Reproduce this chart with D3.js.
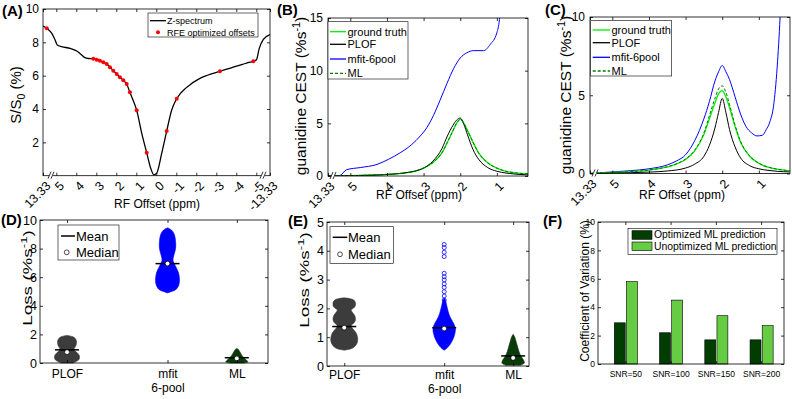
<!DOCTYPE html>
<html>
<head>
<meta charset="utf-8">
<script src="https://cdn.jsdelivr.net/npm/d3@7"></script>
<style>
    body { margin: 0; background: #fff; }
    svg { display: block; font-family: "Liberation Sans", Arial, Helvetica, sans-serif; }
</style>
</head>
<body>
<svg id="fig" width="792" height="399"></svg>
<script>
// ---- (A) Z-spectrum, [ppm, S/S0 %]
const zTicks = [13.33, 5, 4, 3, 2, 1, 0, -1, -2, -3, -4, -5, -13.33];
const zSpectrum = [
    [13.33, 8.98], [10.6, 8.82], [7.8, 8.54], [5.75, 8.14], [4.95, 7.84], [4.73, 7.74], [4.31, 7.64],
    [3.98, 7.48], [3.73, 7.24], [3.57, 7.08], [3.4, 7.03], [3.15, 7.02], [2.82, 6.9], [2.48, 6.7],
    [2.15, 6.3], [1.98, 6.1], [1.82, 5.9], [1.65, 5.72], [1.48, 5.5], [1.32, 5.0], [1.15, 4.5],
    [0.98, 3.92], [0.73, 2.55], [0.48, 1.38], [0.28, 0.45], [0.12, 0.05], [-0.02, 0.15], [-0.27, 1.34],
    [-0.52, 2.68], [-0.77, 3.94], [-1.02, 4.62], [-1.52, 5.3], [-2.18, 5.84], [-2.85, 6.14],
    [-3.18, 6.26], [-3.85, 6.52], [-4.52, 6.76], [-4.85, 6.86], [-5.1, 6.95], [-6.8, 7.64],
    [-9.3, 8.18], [-13.33, 8.47]
];
const rfeOffsets = [
    [11.0, 8.84], [3.15, 7.02], [2.98, 6.96], [2.82, 6.9], [2.65, 6.8], [2.48, 6.7], [2.32, 6.5],
    [2.15, 6.3], [1.98, 6.1], [1.82, 5.9], [1.65, 5.72], [1.48, 5.5], [1.32, 5.0], [0.98, 3.92],
    [0.48, 1.38], [-0.52, 2.68], [-1.02, 4.62], [-3.18, 6.26], [-4.85, 6.86]
];

// ---- (B) / (C) guanidine CEST, [ppm, %s-1]
const cestTicks = [13.33, 5, 4, 3, 2, 1];
const truthB = [[13.33, 0], [5.5, 0.02], [5, 0.04], [4.5, 0.08], [4, 0.15], [3.5, 0.3], [3.25, 0.45], [3, 0.75],
    [2.75, 1.25], [2.5, 2.2], [2.35, 3.2], [2.2, 4.3], [2.1, 5.0], [2.0, 5.4], [1.9, 5.0], [1.8, 4.3],
    [1.65, 3.2], [1.5, 2.2], [1.25, 1.25], [1.0, 0.75], [0.75, 0.45], [0.5, 0.3], [0.15, 0.2]];
const plofB = [[13.33, 0], [5.5, 0.01], [5, 0.03], [4.5, 0.07], [4, 0.14], [3.5, 0.3], [3.25, 0.45], [3, 0.75],
    [2.75, 1.4], [2.5, 2.6], [2.35, 3.8], [2.2, 4.8], [2.1, 5.3], [2.0, 5.5], [1.9, 4.9], [1.8, 3.9],
    [1.65, 2.5], [1.5, 1.6], [1.25, 0.8], [1.0, 0.45], [0.75, 0.28], [0.5, 0.18], [0.15, 0.1]];
const mfitB = [[13.33, 0], [5.5, 0], [5.3, 0.02], [5.1, 0.6], [4.73, 0.8], [4.27, 1.1], [3.95, 1.6], [3.64, 2.2],
    [3.32, 3.0], [3.09, 3.8], [2.91, 4.6], [2.73, 5.75], [2.55, 7.2], [2.36, 8.8], [2.18, 10.2], [2.0, 11.2],
    [1.82, 11.7], [1.64, 11.9], [1.36, 11.9], [1.18, 12.5], [1.0, 13.6], [0.93, 14.85], [0.9, 16]];
const mlB = [[13.33, 0], [5.5, 0.02], [5, 0.04], [4.5, 0.08], [4, 0.16], [3.5, 0.3], [3.25, 0.46], [3, 0.76],
    [2.75, 1.27], [2.5, 2.2], [2.35, 3.2], [2.2, 4.3], [2.1, 5.0], [2.0, 5.35], [1.9, 5.0], [1.8, 4.3],
    [1.65, 3.2], [1.5, 2.2], [1.25, 1.25], [1.0, 0.75], [0.75, 0.45], [0.5, 0.3], [0.15, 0.2]];

const truthC = [[13.33, 0], [5.5, 0.03], [5, 0.07], [4.5, 0.12], [4, 0.22], [3.5, 0.42], [3.25, 0.6], [3, 0.9],
    [2.75, 1.45], [2.5, 2.5], [2.35, 3.5], [2.2, 4.5], [2.1, 5.1], [2.0, 5.3], [1.9, 4.9], [1.8, 4.2],
    [1.65, 3.0], [1.5, 2.0], [1.25, 1.1], [1.0, 0.65], [0.75, 0.4], [0.5, 0.28], [0.16, 0.17]];
const plofC = [[13.33, 0], [5.5, 0.01], [5, 0.03], [4.5, 0.05], [4, 0.09], [3.5, 0.16], [3, 0.35], [2.75, 0.6],
    [2.5, 1.1], [2.35, 1.8], [2.2, 2.9], [2.1, 3.9], [2.0, 4.8], [1.9, 3.9], [1.8, 2.8], [1.65, 1.7],
    [1.5, 1.0], [1.25, 0.5], [1.0, 0.3], [0.75, 0.2], [0.5, 0.14], [0.16, 0.1]];
const mfitC = [[13.33, 0], [5.5, 0], [5.3, 0.05], [5, 0.1], [4.5, 0.18], [4, 0.3], [3.5, 0.55], [3.25, 0.8],
    [3, 1.2], [2.75, 2.1], [2.5, 3.5], [2.35, 4.6], [2.2, 5.9], [2.1, 6.5], [2.0, 6.9], [1.9, 6.5],
    [1.8, 6.0], [1.65, 4.9], [1.5, 3.8], [1.35, 3.0], [1.2, 2.6], [1.05, 2.4], [0.9, 2.45], [0.8, 2.8],
    [0.7, 3.3], [0.6, 4.3], [0.5, 6.8], [0.42, 10], [0.4, 11]];
const mlC = [[13.33, 0], [5.5, 0.03], [5, 0.07], [4.5, 0.12], [4, 0.22], [3.5, 0.43], [3.25, 0.62], [3, 0.93],
    [2.75, 1.5], [2.5, 2.6], [2.35, 3.7], [2.2, 4.8], [2.1, 5.4], [2.0, 5.6], [1.9, 5.2], [1.8, 4.4],
    [1.65, 3.1], [1.5, 2.05], [1.25, 1.12], [1.0, 0.66], [0.75, 0.41], [0.5, 0.28], [0.16, 0.17]];

// ---- (D) / (E) loss distributions: [loss, relative density]
const methods = ['PLOF', 'mfit\n6-pool', 'ML'];
const plofD = [[0, 0.45], [0.15, 0.8], [0.3, 0.95], [0.5, 0.95], [0.7, 0.8], [0.85, 0.6], [1.0, 0.55],
    [1.15, 0.65], [1.35, 0.72], [1.55, 0.72], [1.75, 0.6], [1.85, 0.4], [1.93, 0]];
const mfitD = [[4.9, 0], [5.0, 0.3], [5.1, 0.6], [5.4, 0.85], [5.8, 0.92], [6.3, 0.85], [6.8, 0.6], [7.2, 0.42],
    [7.5, 0.48], [8.0, 0.62], [8.5, 0.62], [9.0, 0.52], [9.3, 0.3], [9.45, 0]];
const mlD = [[0, 0.5], [0.08, 0.85], [0.2, 0.75], [0.4, 0.5], [0.6, 0.35], [0.8, 0.22], [0.95, 0.12], [1.02, 0]];
const meanD = [0.92, 6.95, 0.37];
const medianD = [0.76, 6.95, 0.32];

const plofE = [[0.55, 0], [0.6, 0.5], [0.7, 0.8], [0.85, 0.95], [1.0, 0.95], [1.15, 0.85], [1.3, 0.6], [1.4, 0.5],
    [1.5, 0.7], [1.6, 0.8], [1.75, 0.75], [1.88, 0.55], [1.95, 0.5], [2.05, 0.75], [2.2, 0.8], [2.3, 0.65], [2.37, 0]];
const mfitE = [[0.55, 0], [0.6, 0.15], [0.7, 0.35], [0.9, 0.6], [1.1, 0.75], [1.3, 0.8], [1.5, 0.65], [1.7, 0.42],
    [1.9, 0.28], [2.1, 0.18], [2.3, 0.08], [2.35, 0]];
const mlE = [[0.03, 0.55], [0.1, 0.8], [0.2, 0.75], [0.35, 0.55], [0.5, 0.42], [0.7, 0.3], [0.9, 0.18], [1.0, 0.12], [1.1, 0]];
const mfitOutliersE = [2.29, 2.43, 2.58, 2.73, 2.85, 2.99, 3.10, 3.22, 3.8, 3.95, 4.11, 4.22];
const meanE = [1.37, 1.33, 0.35];
const medianE = [1.33, 1.3, 0.28];

// ---- (F) coefficient of variation (%)
const snrLabels = ['SNR=50', 'SNR=100', 'SNR=150', 'SNR=200'];
const optimizedCV = [2.9, 2.2, 1.7, 1.7];
const unoptimizedCV = [5.8, 4.5, 3.4, 2.7];

// ------------------------------------------------------------------
const svg = d3.select('#fig');
svg.append('rect').attr('width', 792).attr('height', 399).attr('fill', '#fff');

const GREEN = '#00ee00', DKGREEN = '#007a00', BLUE = '#0000ff', GRAY = '#3c3c3c', MLGREEN = '#0b3b0b';

function panel(p) {
    return svg.append('g').attr('transform', `translate(${p.x},${p.y})`);
}

function frame(g, p) {
    g.append('rect')
        .attr('width', p.w).attr('height', p.h)
        .attr('fill', 'none').attr('stroke', '#000').attr('stroke-width', 0.8);
}

function axes(g, p, x, y, o) {
    const left = g.append('g')
        .call(d3.axisLeft(y).tickValues(o.yTicks).tickSize(-3).tickPadding(o.yPad || 4).tickFormat(d => d));
    g.append('g').attr('transform', `translate(${p.w},0)`)
        .call(d3.axisRight(y).tickValues(o.yTicks).tickSize(-3).tickFormat(''));
    const xa = o.band ? d3.axisBottom(x) : d3.axisBottom(x).tickValues(o.xTicks);
    const bottom = g.append('g').attr('transform', `translate(0,${p.h})`)
        .call(xa.tickSize(-3).tickPadding(o.xPad || 4).tickFormat(o.xFmt || (d => d)));
    const xt = o.band ? d3.axisTop(x) : d3.axisTop(x).tickValues(o.xTicks);
    g.append('g').call(xt.tickSize(-3).tickFormat(''));
    g.selectAll('.domain').remove();
    g.selectAll('.tick line').attr('stroke', '#000').attr('stroke-width', 0.8);
    [left, bottom].forEach(a => a.attr('font-family', null).attr('font-size', null));
    left.selectAll('text').style('font-size', (o.yFont || 12) + 'px').attr('fill', '#000');
    bottom.selectAll('text').style('font-size', (o.xFont || 12) + 'px').attr('fill', '#000');
    return bottom;
}

function rotateTicks(bottom, dx, dy) {
    bottom.selectAll('text')
        .attr('y', 0).attr('dy', 0)
        .attr('text-anchor', 'end')
        .attr('transform', `translate(${dx},${dy}) rotate(-45)`);
}

function axisBreak(g, bx, h) {
    g.append('rect').attr('x', bx - 1).attr('y', h - 1.5).attr('width', 4).attr('height', 3).attr('fill', '#fff');
    [0, 3].forEach(off => {
        g.append('line')
            .attr('x1', bx - 2 + off).attr('y1', h + 3)
            .attr('x2', bx + 1 + off).attr('y2', h - 4)
            .attr('stroke', '#000').attr('stroke-width', 0.8);
    });
}

function yLabel(x, y, size, parts, stretch) {
    const t = svg.append('text')
        .attr('transform', `translate(${x},${y}) rotate(-90)` + (stretch ? ` scale(${stretch},1)` : ''))
        .attr('text-anchor', 'middle')
        .style('font-size', size + 'px');
    parts.forEach(([s, kind]) => {
        const ts = t.append('tspan').text(s);
        if (kind === 'sup') ts.style('font-size', (size * 0.7) + 'px').attr('dy', -size * 0.4);
        if (kind === 'sub') ts.style('font-size', (size * 0.7) + 'px').attr('dy', size * 0.25);
        if (kind === 'back') ts.attr('dy', size * 0.4);
        if (kind === 'up') ts.attr('dy', -size * 0.25);
    });
}

function xLabel(x, y, size, s) {
    svg.append('text').attr('x', x).attr('y', y).attr('text-anchor', 'middle')
        .style('font-size', size + 'px').text(s);
}

function panelTag(x, y, s) {
    svg.append('text').attr('x', x).attr('y', y)
        .style('font-size', '15px').style('font-weight', 'bold').text(s);
}

function clipTo(g, p, id) {
    g.append('clipPath').attr('id', id).append('rect').attr('width', p.w).attr('height', p.h);
    return g.append('g').attr('clip-path', `url(#${id})`);
}

// ================= (A)
const pA = { x: 43, y: 9, w: 227, h: 166.7 };
const gA = panel(pA);
const xA = d3.scaleLinear().domain([13.33, 5, -5, -13.33]).range([0, 13.3, 213.3, pA.w]);
const yA = d3.scaleLinear().domain([0, 10]).range([pA.h, 0]);
const plotA = clipTo(gA, pA, 'clipA');
plotA.append('path').datum(zSpectrum)
    .attr('fill', 'none').attr('stroke', '#000').attr('stroke-width', 1.3)
    .attr('d', d3.line().x(d => xA(d[0])).y(d => yA(d[1])).curve(d3.curveMonotoneX));
plotA.selectAll('circle').data(rfeOffsets).join('circle')
    .attr('cx', d => xA(d[0])).attr('cy', d => yA(d[1])).attr('r', 2).attr('fill', '#ff0000');
frame(gA, pA);
const bA = axes(gA, pA, xA, yA, { yTicks: [2, 4, 6, 8, 10], xTicks: zTicks, xFont: 12.5 });
rotateTicks(bA, 8, 11);
axisBreak(gA, 7, pA.h);
axisBreak(gA, pA.w - 8, pA.h);

// legend A
svg.append('rect').attr('x', 148).attr('y', 13).attr('width', 110).attr('height', 24)
    .attr('fill', '#fff').attr('stroke', '#000').attr('stroke-width', 0.6);
svg.append('line').attr('x1', 150).attr('x2', 166).attr('y1', 20.7).attr('y2', 20.7)
    .attr('stroke', '#000').attr('stroke-width', 1.3);
svg.append('text').attr('x', 167).attr('y', 24).style('font-size', '9px').text('Z-spectrum');
svg.append('circle').attr('cx', 158).attr('cy', 32.3).attr('r', 2).attr('fill', '#ff0000');
svg.append('text').attr('x', 167).attr('y', 35.5).style('font-size', '9px').text('RFE optimized offsets');

yLabel(21, 95, 15, [['S/S'], ['0', 'sub'], [' (%)', 'up']]);
xLabel(157, 208, 12, 'RF Offset (ppm)');
panelTag(2, 16, '(A)');

// ================= (B) and (C)
function cestPanel(p, yMax, yTicks, series, clipId) {
    const g = panel(p);
    const x = d3.scaleLinear().domain([13.33, 5.5, 0.15]).range([0, 4, p.w]);
    const y = d3.scaleLinear().domain([0, yMax]).range([p.h, 0]);
    const plot = clipTo(g, p, clipId);
    const line = d3.line().x(d => x(d[0])).y(d => y(d[1])).curve(d3.curveMonotoneX);
    series.forEach(s => {
        plot.append('path').datum(s.data)
            .attr('fill', 'none').attr('stroke', s.color).attr('stroke-width', s.width)
            .attr('stroke-dasharray', s.dash || null)
            .attr('d', line);
    });
    frame(g, p);
    const b = axes(g, p, x, y, { yTicks: yTicks, xTicks: cestTicks, xFont: 12.5, yPad: 5 });
    rotateTicks(b, 7, 11);
    axisBreak(g, 4, p.h);
    return g;
}

const pB = { x: 328, y: 18, w: 200, h: 158 };
cestPanel(pB, 15, [0, 5, 10, 15], [
    { data: mfitB, color: BLUE, width: 1 },
    { data: truthB, color: GREEN, width: 1.3 },
    { data: plofB, color: '#000', width: 1 },
    { data: mlB, color: DKGREEN, width: 1, dash: '3,2' }
], 'clipB');

const pC = { x: 590, y: 17, w: 200, h: 156.5 };
cestPanel(pC, 10, [0, 5, 10], [
    { data: mfitC, color: BLUE, width: 1 },
    { data: truthC, color: GREEN, width: 1.3 },
    { data: plofC, color: '#000', width: 1 },
    { data: mlC, color: DKGREEN, width: 1, dash: '3,2' }
], 'clipC');

function cestLegend(lx, ly, w, h, rows, textX, lineX0, lineX1, size) {
    svg.append('rect').attr('x', lx).attr('y', ly).attr('width', w).attr('height', h)
        .attr('fill', '#fff').attr('stroke', '#000').attr('stroke-width', 0.6);
    const items = [
        { name: 'ground truth', color: GREEN, width: 1.3 },
        { name: 'PLOF', color: '#000', width: 1.3 },
        { name: 'mfit-6pool', color: BLUE, width: 1.3 },
        { name: 'ML', color: DKGREEN, width: 1.3, dash: '3,2' }
    ];
    items.forEach((it, i) => {
        svg.append('line').attr('x1', lineX0).attr('x2', lineX1).attr('y1', rows[i]).attr('y2', rows[i])
            .attr('stroke', it.color).attr('stroke-width', it.width).attr('stroke-dasharray', it.dash || null);
        svg.append('text').attr('x', textX).attr('y', rows[i] + size * 0.36)
            .style('font-size', size + 'px').text(it.name);
    });
}
cestLegend(328, 21.7, 80, 57.3, [31.7, 44.3, 59, 73.3], 347.5, 330, 346, 11);
cestLegend(590.7, 20.7, 81, 55.3, [30, 42.7, 57.3, 71], 611.5, 592.7, 610, 11);

yLabel(306, 96, 15.5, [['guanidine CEST (%s'], ['-1', 'sup'], [')', 'back']]);
yLabel(571, 95, 15.5, [['guanidine CEST (%s'], ['-1', 'sup'], [')', 'back']]);
xLabel(419, 199, 12, 'RF Offset (ppm)');
xLabel(682, 199, 12, 'RF Offset (ppm)');
panelTag(277, 15, '(B)');
panelTag(545, 15, '(C)');

// ================= (D) and (E)
const catPos = [1, 2.45, 3.45];

function lossPanel(p, xDom, yMax, yTicks, shapes, means, medians, halfW, outliers, lineBase) {
    const g = panel(p);
    const x = d3.scaleLinear().domain(xDom).range([0, p.w]);
    const y = d3.scaleLinear().domain([0, yMax]).range([p.h, 0]);
    const wScale = d3.scaleLinear().domain([0, 1]).range([0, halfW]);
    const colors = [GRAY, BLUE, MLGREEN];
    shapes.forEach((dens, i) => {
        const cx = x(catPos[i]);
        const area = d3.area().curve(d3.curveCatmullRom)
            .y(d => y(d[0]))
            .x0(d => cx - wScale(d[1]))
            .x1(d => cx + wScale(d[1]));
        g.append('path').datum(dens).attr('d', area)
            .attr('fill', colors[i]).attr('stroke', colors[i]).attr('stroke-width', 0.6);
    });
    if (outliers) {
        g.selectAll('circle.out').data(outliers).join('circle').attr('class', 'out')
            .attr('cx', x(catPos[1])).attr('cy', d => y(d)).attr('r', 2)
            .attr('fill', 'none').attr('stroke', BLUE).attr('stroke-width', 0.8);
    }
    means.forEach((m, i) => {
        g.append('line').attr('x1', x(catPos[i]) - 12).attr('x2', x(catPos[i]) + 12)
            .attr('y1', y(m)).attr('y2', y(m)).attr('stroke', '#000').attr('stroke-width', 1.5);
    });
    medians.forEach((m, i) => {
        g.append('circle').attr('cx', x(catPos[i])).attr('cy', y(m)).attr('r', 2.4)
            .attr('fill', '#fff').attr('stroke', '#000').attr('stroke-width', 0.7);
    });
    frame(g, p);
    const b = axes(g, p, x, y, { yTicks: yTicks, xTicks: catPos, yPad: 3, xPad: 6, yFont: 12.5,
        xFmt: (d, i) => methods[i] });
    b.selectAll('text').each(function (d, i) {
        const t = d3.select(this);
        const lines = methods[i].split('\n');
        t.text(null).attr('dy', null).attr('y', lineBase);
        lines.forEach((s, k) => t.append('tspan').attr('x', 0).attr('y', lineBase + k * 14).text(s));
    });
    return g;
}

const pD = { x: 40, y: 220, w: 228, h: 143 };
lossPanel(pD, [0.61, 3.9], 10, [0, 2, 4, 6, 8, 10], [plofD, mfitD, mlD], meanD, medianD, 13, null, 15);
const pE = { x: 327, y: 222, w: 202, h: 144 };
lossPanel(pE, [0.75, 3.68], 5, [0, 1, 2, 3, 4, 5], [plofE, mfitE, mlE], meanE, medianE, 14, mfitOutliersE, 13);

function lossLegend(lx, ly, w, h, meanY, medY, x0, x1, cx, textX) {
    svg.append('rect').attr('x', lx).attr('y', ly).attr('width', w).attr('height', h)
        .attr('fill', '#fff').attr('stroke', '#000').attr('stroke-width', 0.6);
    svg.append('line').attr('x1', x0).attr('x2', x1).attr('y1', meanY).attr('y2', meanY)
        .attr('stroke', '#000').attr('stroke-width', 1.5);
    svg.append('text').attr('x', textX).attr('y', meanY + 4.6).style('font-size', '13px').text('Mean');
    svg.append('circle').attr('cx', cx).attr('cy', medY).attr('r', 2.4)
        .attr('fill', '#fff').attr('stroke', '#000').attr('stroke-width', 0.7);
    svg.append('text').attr('x', textX).attr('y', medY + 4.6).style('font-size', '13px').text('Median');
}
lossLegend(58, 225, 61, 35, 236, 252.3, 61, 75, 66.7, 76);
lossLegend(330, 226.7, 63.3, 36.6, 237.3, 254.3, 332.7, 347.3, 340, 348);

yLabel(32, 278, 13.5, [['Loss (%s'], ['-1', 'sup'], [')', 'back']], 1.4);
yLabel(309, 280, 13.5, [['Loss (%s'], ['-1', 'sup'], [')', 'back']], 1.4);
panelTag(1, 225, '(D)');
panelTag(288, 226, '(E)');

// ================= (F)
const pF = { x: 598, y: 222, w: 186, h: 142 };
const gF = panel(pF);
const xF = d3.scaleBand().domain(snrLabels).range([0, pF.w]).paddingInner(0.49).paddingOuter(0.3).align(0.6);
const xSub = d3.scaleBand().domain(['opt', 'unopt']).range([0, xF.bandwidth()]).paddingInner(0.1);
const yF = d3.scaleLinear().domain([0, 10]).range([pF.h, 0]);
const barColor = { opt: '#003d00', unopt: '#66cc44' };
snrLabels.forEach((s, i) => {
    [['opt', optimizedCV[i]], ['unopt', unoptimizedCV[i]]].forEach(([k, v]) => {
        gF.append('rect')
            .attr('x', xF(s) + xSub(k)).attr('width', xSub.bandwidth())
            .attr('y', yF(v)).attr('height', pF.h - yF(v))
            .attr('fill', barColor[k]).attr('stroke', '#000').attr('stroke-width', 0.6);
    });
});
frame(gF, pF);
axes(gF, pF, xF, yF, { band: true, yTicks: [0, 2, 4, 6, 8, 10], yFont: 8.5, xFont: 8.5, yPad: 3, xPad: 7 });

svg.append('rect').attr('x', 628).attr('y', 228.3).attr('width', 149).attr('height', 26)
    .attr('fill', '#fff').attr('stroke', '#000').attr('stroke-width', 0.6);
[['opt', 'Optimized ML prediction', 230.7, 238.3], ['unopt', 'Unoptimized ML prediction', 242, 250]].forEach(([k, s, ry, ty]) => {
    svg.append('rect').attr('x', 632).attr('y', ry).attr('width', 20).attr('height', 8.6)
        .attr('fill', barColor[k]).attr('stroke', '#000').attr('stroke-width', 0.6);
    svg.append('text').attr('x', 654).attr('y', ty).style('font-size', '10.4px').text(s);
});

yLabel(589, 291, 12, [['Coefficient of Variation (%)']]);
panelTag(543, 226, '(F)');
</script>
</body>
</html>
